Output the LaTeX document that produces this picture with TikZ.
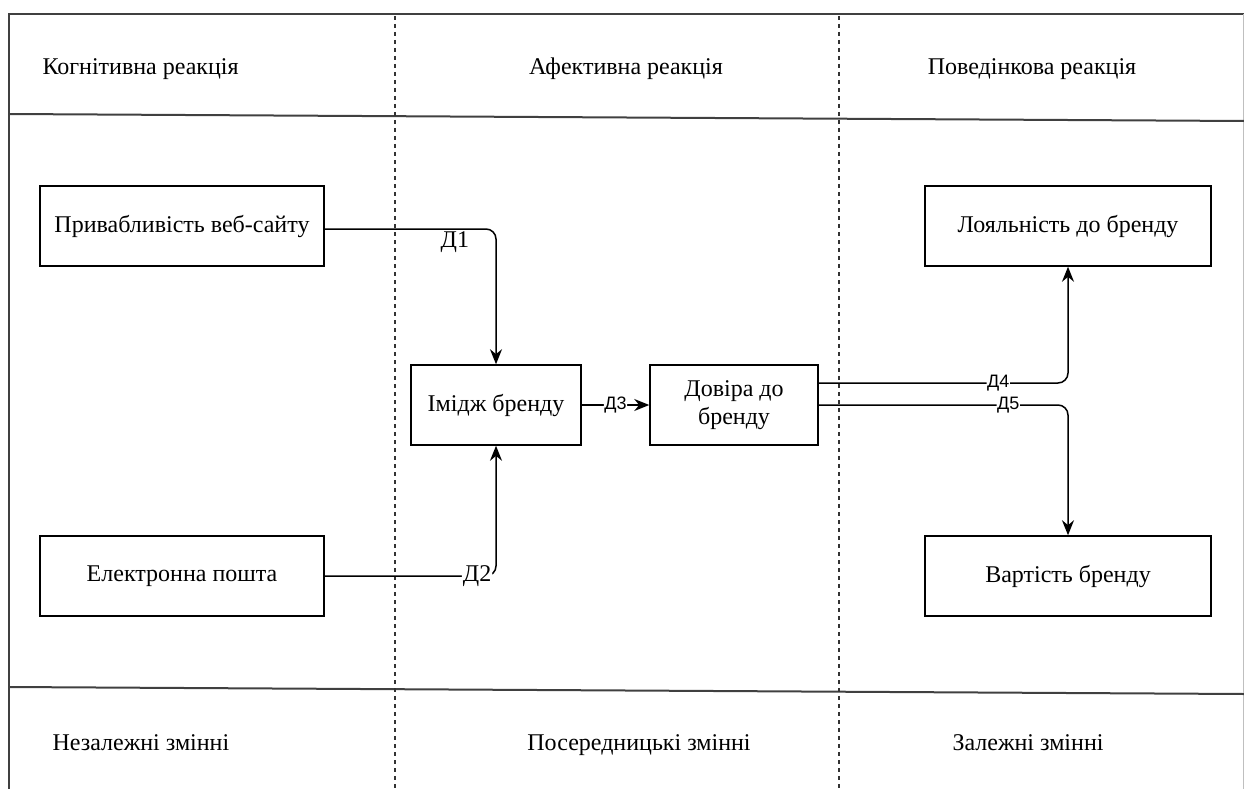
\documentclass[tikz,border=0pt]{standalone}
\usepackage{fontspec}
\setmainfont{Liberation Serif}
\newfontfamily\lblfont{Liberation Sans}
\usetikzlibrary{arrows.meta}
\tikzset{
	box/.style={draw, line width=1.5pt, minimum height=80pt, align=center, inner sep=2pt, font=\fontsize{24}{28}\selectfont},
	conn/.style={line width=1.5pt, rounded corners=10pt, -{Stealth[length=15pt,width=12pt]}},
	lbl/.style={fill=white, inner sep=1pt, font=\fontsize{24}{26}\selectfont},
	slbl/.style={fill=white, inner sep=0.5pt, font=\lblfont\fontsize{18}{20}\selectfont},
	head/.style={font=\fontsize{24}{28}\selectfont, text height=17pt, text depth=6pt},
	frame/.style={line width=2pt, black!75},
	lane/.style={line width=2pt, black!80, dash pattern=on 4pt off 4pt}
}

\begin{document}
\begin{tikzpicture}[x=1pt, y=-1pt]
		%%%%% START %%%%%
		\useasboundingbox (0,0) rectangle (1244,789);
		
		% frame and lanes
		\draw[frame] (9,789) -- (9,14) -- (1244,14);
		\draw[line width=1pt, black!25] (1243,14) -- (1243,789);
		\draw[frame] (9,114) -- (1244,121);
		\draw[frame] (9,687) -- (1244,694);
		\draw[lane] (395,16) -- (395,789);
		\draw[lane] (839,16) -- (839,789);
		
		% headers
		\node[head, anchor=west] (kog) at (39,69) {Когнітивна реакція};
		\node[head] (afe) at (626,69) {Афективна реакція};
		\node[head] (pov) at (1032,69) {Поведінкова реакція};
		
		% footers
		\node[head, anchor=west] (nez) at (49,745) {Незалежні змінні};
		\node[head] (pos) at (639,745) {Посередницькі змінні};
		\node[head] (zal) at (1028,745) {Залежні змінні};
		
		% variables
		\node[box, minimum width=284pt] (prv) at (182,226) {Привабливість веб-сайту};
		\node[box, minimum width=284pt] (pst) at (182,576) {Електронна пошта};
		\node[box, minimum width=170pt] (img) at (496,405) {Імідж бренду};
		\node[box, minimum width=168pt] (dov) at (734,405) {Довіра до\\бренду};
		\node[box, minimum width=286pt] (loy) at (1068,226) {Лояльність до бренду};
		\node[box, minimum width=286pt] (vrt) at (1068,576) {Вартість бренду};
		
		% links
		\draw[conn] ([yshift=-3pt]prv.east) -| node[lbl, pos=0.38, yshift=-13pt] {Д1} (img.north);
		\draw[conn] (pst.east) -| node[lbl, pos=0.445] {Д2} (img.south);
		\draw[conn] (img.east) -- node[slbl] {Д3} (dov.west);
		\draw[conn] ([yshift=22pt]dov.east) -| node[slbl, pos=0.36] {Д4} (loy.south);
		\draw[conn] (dov.east) -| node[slbl, pos=0.38] {Д5} (vrt.north);
		
		%%%%% END %%%%%
\end{tikzpicture}
\end{document}
